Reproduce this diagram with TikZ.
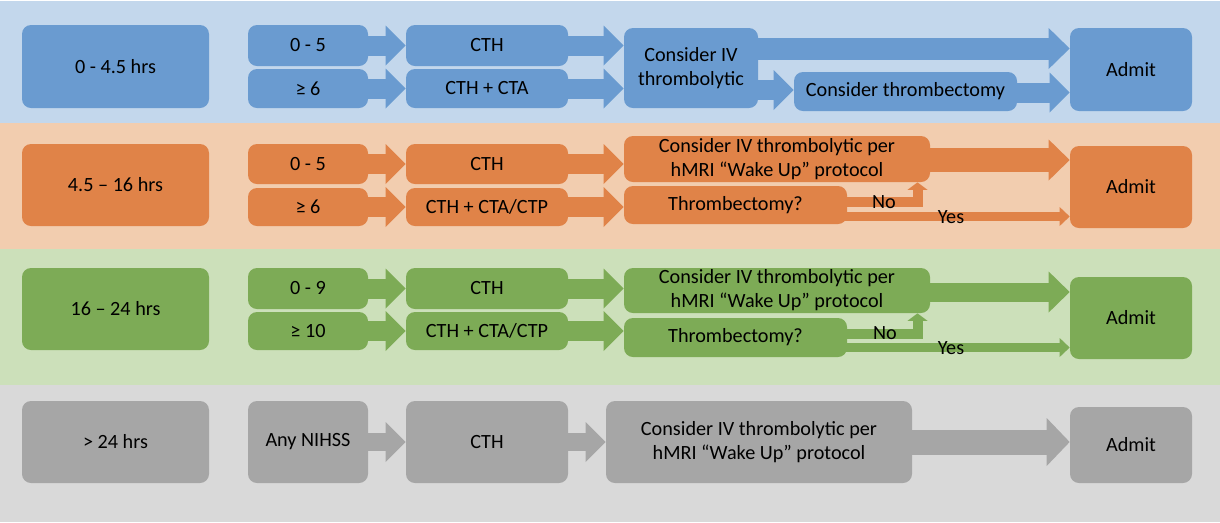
\documentclass[tikz,border=0pt]{standalone}
\usepackage{fontspec}
\setmainfont{Carlito}
\usepackage{xcolor}
\usepackage{tikz}
\usetikzlibrary{arrows.meta, positioning, calc}

\definecolor{blueband}{RGB}{195,215,236}
\definecolor{bluebox}{RGB}{106,155,208}
\definecolor{orangeband}{RGB}{242,205,175}
\definecolor{orangebox}{RGB}{224,131,72}
\definecolor{greenband}{RGB}{204,224,186}
\definecolor{greenbox}{RGB}{125,171,86}
\definecolor{grayband}{RGB}{217,217,217}
\definecolor{graybox}{RGB}{166,166,166}

\begin{document}
\begin{tikzpicture}[x=0.02cm, y=-0.02cm,
  box/.style 2 args={rounded corners=0.18cm, inner sep=0pt, align=center,
    minimum width=#1*0.02cm, minimum height=#2*0.02cm,
    font=\fontsize{11.5}{13.7}\selectfont},
  lbl/.style={inner sep=0pt, font=\fontsize{11.5}{13.7}\selectfont},
  stepflow/.style={line width=0.4cm, -{Triangle[length=0.4cm, width=0.8cm, line width=0pt]}},
  mainflow/.style={line width=0.44cm, -{Triangle[length=0.42cm, width=0.82cm, line width=0pt]}},
  bigflow/.style={line width=0.5cm, -{Triangle[length=0.46cm, width=0.96cm, line width=0pt]}},
  elbowflow/.style={line width=0.2cm, line join=miter, -{Triangle[length=0.15cm, width=0.4cm, line width=0pt]}},
  yesflow/.style={line width=0.18cm, -{Triangle[length=0.2cm, width=0.38cm, line width=0pt]}}]
\useasboundingbox (0,0) rectangle (1220,522);

% bands
\fill[blueband] (0,1) rectangle (1220,123);
\fill[orangeband] (0,123) rectangle (1220,249);
\fill[greenband] (0,249) rectangle (1220,385);
\fill[grayband] (0,385) rectangle (1220,522);

% 0 - 4.5 hrs
\node[box={187}{83}, fill=bluebox] (t1) at (115.5,66.5) {0 - 4.5 hrs};
\node[box={120}{41}, fill=bluebox] (n1a) at (308,45.5) {0 - 5};
\node[box={120}{39}, fill=bluebox] (n1b) at (308,88.5) {≥ 6};
\node[box={162}{41}, fill=bluebox] (c1a) at (487,45.5) {CTH};
\node[box={162}{39}, fill=bluebox] (c1b) at (487,88.5) {CTH + CTA};
\node[box={134}{80}, fill=bluebox] (iv1) at (691,68) {Consider IV\\thrombolytic};
\node[box={223}{39}, fill=bluebox] (th1) at (905.5,91.5) {Consider thrombectomy};
\node[box={122}{83}, fill=bluebox] (ad1) at (1131,69.5) {Admit};
\draw[stepflow, bluebox] (n1a.east) -- (c1a.west);
\draw[stepflow, bluebox] (n1b.east) -- (c1b.west);
\draw[stepflow, bluebox] (c1a.east) -- (iv1.west |- c1a.east);
\draw[stepflow, bluebox] (c1b.east) -- (iv1.west |- c1b.east);
\draw[mainflow, bluebox] (iv1.east |- 0,48.5) -- (ad1.west |- 0,48.5);
\draw[stepflow, bluebox] (iv1.east |- 0,90) -- (th1.west |- 0,90);
\draw[stepflow, bluebox] (th1.east |- 0,92.5) -- (ad1.west |- 0,92.5);

% 4.5 - 16 hrs
\node[box={187}{82}, fill=orangebox] (t2) at (115.5,185) {4.5 – 16 hrs};
\node[box={120}{40}, fill=orangebox] (n2a) at (308,164) {0 - 5};
\node[box={120}{38}, fill=orangebox] (n2b) at (308,207) {≥ 6};
\node[box={162}{40}, fill=orangebox] (c2a) at (487,164) {CTH};
\node[box={162}{38}, fill=orangebox] (c2b) at (487,207) {CTH + CTA/CTP};
\node[box={306}{46}, fill=orangebox] (iv2) at (777,159) {Consider IV thrombolytic per\\hMRI “Wake Up” protocol};
\node[box={223}{38}, fill=orangebox] (q2) at (735.5,205) {Thrombectomy?};
\node[box={122}{82}, fill=orangebox] (ad2) at (1131,187) {Admit};
\draw[stepflow, orangebox] (n2a.east) -- (c2a.west);
\draw[stepflow, orangebox] (n2b.east) -- (c2b.west);
\draw[stepflow, orangebox] (c2a.east) -- (iv2.west |- c2a.east);
\draw[stepflow, orangebox] (c2b.east) -- (q2.west |- c2b.east);
\draw[mainflow, orangebox, line width=0.48cm] (iv2.east |- 0,160) -- (ad2.west |- 0,160);
\draw[elbowflow, orangebox] ($(q2.east |- 0,202)+(-4,0)$) -| (iv2.south -| 917.5,0);
\draw[yesflow, orangebox] ($(q2.east |- 0,216.5)+(-4,0)$) -- (ad2.west |- 0,216.5);
\node[lbl] (no2) at (884,202) {No};
\node[lbl] (yes2) at (951,217) {Yes};

% 16 - 24 hrs
\node[box={187}{82}, fill=greenbox] (t3) at (115.5,309) {16 – 24 hrs};
\node[box={120}{41}, fill=greenbox] (n3a) at (308,288.5) {0 - 9};
\node[box={120}{38}, fill=greenbox] (n3b) at (308,331) {≥ 10};
\node[box={162}{41}, fill=greenbox] (c3a) at (487,288.5) {CTH};
\node[box={162}{38}, fill=greenbox] (c3b) at (487,331) {CTH + CTA/CTP};
\node[box={306}{45}, fill=greenbox] (iv3) at (777,290.5) {Consider IV thrombolytic per\\hMRI “Wake Up” protocol};
\node[box={223}{39}, fill=greenbox] (q3) at (735.5,337.5) {Thrombectomy?};
\node[box={122}{82}, fill=greenbox] (ad3) at (1131,318) {Admit};
\draw[stepflow, greenbox] (n3a.east) -- (c3a.west);
\draw[stepflow, greenbox] (n3b.east) -- (c3b.west);
\draw[stepflow, greenbox] (c3a.east) -- (iv3.west |- c3a.east);
\draw[stepflow, greenbox] (c3b.east) -- (q3.west |- c3b.east);
\draw[mainflow, greenbox, line width=0.38cm] (iv3.east |- 0,292) -- (ad3.west |- 0,292);
\draw[elbowflow, greenbox] ($(q3.east |- 0,334)+(-4,0)$) -| (iv3.south -| 917.5,0);
\draw[yesflow, greenbox] ($(q3.east |- 0,347.5)+(-4,0)$) -- (ad3.west |- 0,347.5);
\node[lbl] (no3) at (885,333) {No};
\node[lbl] (yes3) at (951,348) {Yes};

% > 24 hrs
\node[box={187}{82}, fill=graybox] (t4) at (115.5,442) {> 24 hrs};
\node[box={120}{82}, fill=graybox] (n4) at (308,442) {Any NIHSS};
\node[box={162}{82}, fill=graybox] (c4) at (487,442) {CTH};
\node[box={306}{82}, fill=graybox] (iv4) at (759,442) {Consider IV thrombolytic per\\hMRI “Wake Up” protocol};
\node[box={122}{76}, fill=graybox] (ad4) at (1131,445) {Admit};
\draw[stepflow, graybox, line width=0.36cm] (n4.east) -- (c4.west);
\draw[stepflow, graybox, line width=0.36cm] (c4.east) -- (iv4.west);
\draw[bigflow, graybox] (iv4.east) -- (ad4.west |- iv4.east);
\end{tikzpicture}
\end{document}
